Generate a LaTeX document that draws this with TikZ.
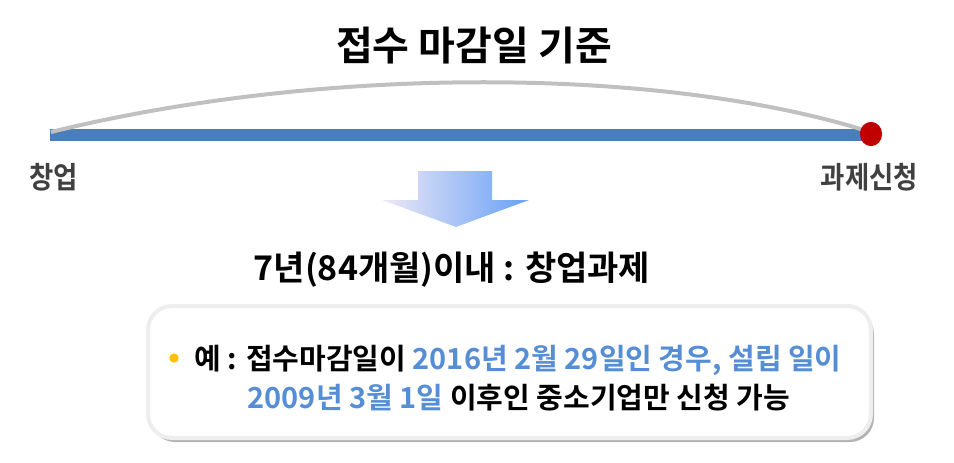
\documentclass[tikz,border=0pt]{standalone}
\usepackage{fontspec}
\setmainfont{Noto Sans CJK KR}[BoldFont={* Bold}]
\newfontfamily\krnarrow{Noto Sans CJK KR}[BoldFont={* Bold},FakeStretch=0.88]
\usepackage{tikz}
\usetikzlibrary{shadows}

\definecolor{barblue}{HTML}{4A7EBB}
\definecolor{arcgray}{HTML}{C0C0C0}
\definecolor{dotred}{HTML}{C00000}
\definecolor{txtblue}{HTML}{558ED5}
\definecolor{dotyellow}{HTML}{FFC000}
\definecolor{lblgray}{HTML}{404040}
\definecolor{arrowlight}{HTML}{EEE8F6}
\definecolor{arrowmid}{HTML}{A4CBF4}
\definecolor{arrowblue}{HTML}{66A0F6}
\definecolor{boxedge}{HTML}{EEEEEE}

\tikzset{
  lbl/.style={font=\krnarrow\bfseries\fontsize{30}{34}\selectfont,text=lblgray,inner sep=0pt},
  bodytxt/.style={font=\bfseries\fontsize{29}{33}\selectfont,inner sep=0pt,anchor=west}
}

\begin{document}
\begin{tikzpicture}[x=1pt,y=-1pt,very thick]
  \useasboundingbox (0,0) rectangle (954,463);
  \node[font=\bfseries\fontsize{40}{44}\selectfont,inner sep=0pt] (title) at (474,46) {접수 마감일 기준};
  \coordinate (start) at (50,135);
  \coordinate (end) at (866,135);
  \coordinate (arcbeg) at (51,132);
  \coordinate (arcend) at (864,130);
  \draw[barblue,line width=12pt] (start) -- (end);
  \draw[arcgray,line width=4pt]
    (arcbeg)
    ..
    controls
    (320,66)
    and
    (655,66)
    ..
    (arcend);
  \filldraw[dotred]
    (871,134) ellipse (10.5pt and 11.5pt);
  \draw
    (53.5,177) node[lbl] (begin) {창업}
    (869.5,177) node[lbl] (apply) {과제신청};
  \shade[left color=arrowlight,middle color=arrowmid,right color=arrowblue]
    (418,171) -- (492,171) -- (492,200) -- (529,200) -- (456,227)
    -- (382,200) -- (418,200) -- cycle;
  \node[font=\bfseries\fontsize{34}{38}\selectfont,inner sep=0pt] (limit) at (452,270) {7년(84개월)이내 : 창업과제};
  \node[draw=boxedge,line width=4pt,fill=white,rounded corners=24pt,
    minimum width=723pt,minimum height=132pt,
    drop shadow={opacity=0.6,shadow xshift=3pt,shadow yshift=-4pt}] (box) at (509.5,372) {};
  \filldraw[dotyellow]
    (174,358) circle (4pt);
  \node[bodytxt] (line1) at (194,360) {예 : 접수마감일이 \textcolor{txtblue}{2016년 2월 29일인 경우, 설립 일이}};
  \node[bodytxt] (line2) at (247,398) {\textcolor{txtblue}{2009년 3월 1일} 이후인 중소기업만 신청 가능};
\end{tikzpicture}
\end{document}
